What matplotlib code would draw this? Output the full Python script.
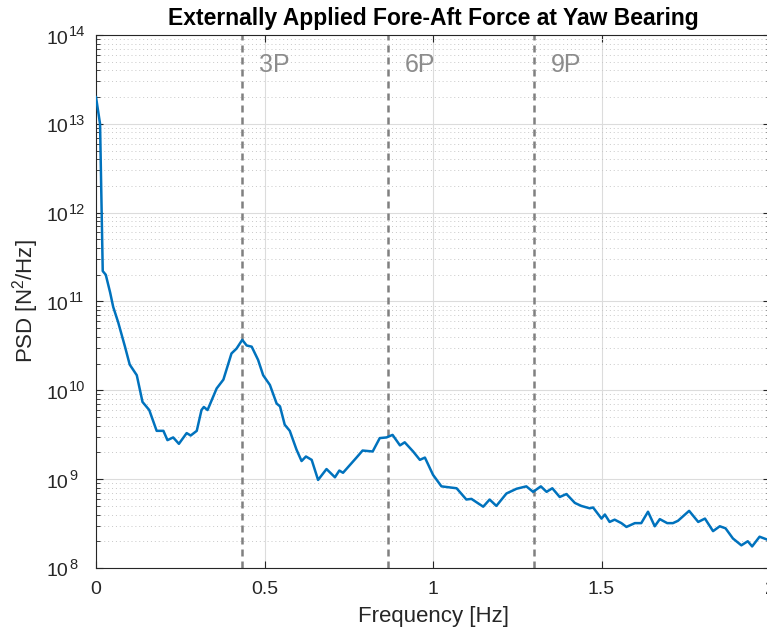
import matplotlib
matplotlib.use("Agg")
import matplotlib.pyplot as plt
import matplotlib.transforms as mtransforms
from matplotlib.ticker import LogLocator, NullFormatter

plt.rcParams['font.family'] = ['Liberation Sans', 'DejaVu Sans']
plt.rcParams['mathtext.default'] = 'regular'

# PSD of fore-aft force at yaw bearing
freq = [0.000, 0.012, 0.020, 0.029, 0.042, 0.051, 0.066, 0.086, 0.100, 0.121,
        0.138, 0.158, 0.180, 0.200, 0.212, 0.229, 0.246, 0.269, 0.281, 0.299,
        0.313, 0.320, 0.331, 0.358, 0.378, 0.402, 0.417, 0.434, 0.447, 0.462,
        0.481, 0.496, 0.516, 0.536, 0.546, 0.560, 0.575, 0.595, 0.610, 0.623,
        0.640, 0.659, 0.684, 0.709, 0.722, 0.733, 0.773, 0.791, 0.821, 0.842,
        0.862, 0.880, 0.902, 0.916, 0.941, 0.961, 0.976, 1.000, 1.025, 1.070,
        1.099, 1.114, 1.149, 1.168, 1.188, 1.218, 1.248, 1.277, 1.297, 1.320,
        1.337, 1.354, 1.376, 1.396, 1.421, 1.440, 1.465, 1.475, 1.500, 1.510,
        1.524, 1.539, 1.559, 1.574, 1.599, 1.618, 1.638, 1.658, 1.673, 1.695,
        1.712, 1.727, 1.760, 1.787, 1.807, 1.831, 1.851, 1.868, 1.890, 1.915,
        1.934, 1.947, 1.969, 1.990, 2.000]
psd = [2.0e13, 1.0e13, 2.2e11, 2.0e11, 1.26e11, 8.7e10, 5.8e10, 3.1e10, 1.95e10, 1.48e10,
       7.4e9, 6.0e9, 3.5e9, 3.5e9, 2.75e9, 2.95e9, 2.5e9, 3.3e9, 3.1e9, 3.5e9,
       6.0e9, 6.5e9, 6.0e9, 1.05e10, 1.32e10, 2.6e10, 2.95e10, 3.7e10, 3.2e10, 3.1e10,
       2.2e10, 1.48e10, 1.15e10, 7.1e9, 6.6e9, 4.1e9, 3.5e9, 2.15e9, 1.6e9, 1.8e9,
       1.65e9, 9.8e8, 1.3e9, 1.05e9, 1.25e9, 1.18e9, 1.75e9, 2.1e9, 2.05e9, 2.9e9,
       2.95e9, 3.15e9, 2.4e9, 2.6e9, 2.05e9, 1.65e9, 1.75e9, 1.12e9, 8.3e8, 7.9e8,
       5.9e8, 6.0e8, 4.9e8, 5.9e8, 5.0e8, 6.9e8, 7.8e8, 8.3e8, 7.2e8, 8.3e8,
       7.2e8, 7.9e8, 6.3e8, 6.8e8, 5.4e8, 5.0e8, 4.7e8, 4.8e8, 3.6e8, 4.0e8,
       3.3e8, 3.5e8, 3.2e8, 2.9e8, 3.2e8, 3.2e8, 4.3e8, 2.95e8, 3.55e8, 3.2e8,
       3.2e8, 3.4e8, 4.4e8, 3.3e8, 3.6e8, 2.6e8, 2.95e8, 2.8e8, 2.15e8, 1.8e8,
       2.0e8, 1.75e8, 2.25e8, 2.1e8, 2.0e8]

# rotor harmonics
harm_labels = ['3P', '6P', '9P']
harm_freq = [0.4333, 0.8667, 1.3]

decades = [8, 9, 10, 11, 12, 13, 14]
xtick_vals = [0, 0.5, 1, 1.5, 2]
xtick_labels = ['0', '0.5', '1', '1.5', '2']

txt_col = '#262626'

fig = plt.figure(figsize=(7.67, 6.33), dpi=100)
ax = fig.add_axes([96 / 767, 65 / 633, 674 / 767, 533 / 633])

ax.semilogy(freq, psd, color='#0072BD', lw=1.8, zorder=3)

for lab, f in zip(harm_labels, harm_freq):
    ax.axvline(f, color='#808080', ls=(0, (2.8, 2.0)), lw=1.8, zorder=2)
    ax.text(f + 0.05, 4.6e13, lab, color='#8c8c8c', fontsize=18,
            ha='left', va='center')

ax.set_xlim(0, 2)
ax.set_ylim(1e8, 1e14)
ax.set_xticks(xtick_vals)
ax.set_xticklabels(xtick_labels)
ax.set_yticks([10.0 ** d for d in decades])
ax.set_yticklabels([])
ax.yaxis.set_minor_locator(LogLocator(base=10, subs=range(2, 10), numticks=20))
ax.yaxis.set_minor_formatter(NullFormatter())

# y tick labels drawn as base and exponent, MATLAB style
trans = mtransforms.blended_transform_factory(ax.transAxes, ax.transData)
for d in decades:
    base_tr = mtransforms.offset_copy(trans, fig=fig, x=-28, y=-4, units='dots')
    exp_tr = mtransforms.offset_copy(trans, fig=fig, x=-27, y=3, units='dots')
    ax.text(0, 10.0 ** d, '10', transform=base_tr, ha='right', va='center',
            fontsize=14, color=txt_col)
    ax.text(0, 10.0 ** d, str(d), transform=exp_tr, ha='left', va='center',
            fontsize=10.5, color=txt_col)

ax.grid(True, which='major', color='#dcdcdc', lw=0.8, zorder=0)
ax.grid(True, which='minor', axis='y', color='#c8c8c8', ls=(0, (1, 3)), lw=0.7, zorder=0)

ax.tick_params(which='both', direction='in', top=True, right=True,
               colors=txt_col, labelsize=14)
ax.tick_params(axis='x', pad=9)
ax.tick_params(which='major', length=5)
ax.tick_params(which='minor', length=3)
for sp in ax.spines.values():
    sp.set_color(txt_col)
    sp.set_linewidth(0.8)

ax.set_xlabel('Frequency [Hz]', fontsize=16, color=txt_col, labelpad=6)
ax.set_ylabel('PSD [N$^2$/Hz]', fontsize=16, color=txt_col, labelpad=36)
ax.set_title('Externally Applied Fore-Aft Force at Yaw Bearing',
             fontsize=16.5, fontweight='bold', pad=7)

fig.savefig('out.png', dpi=100)
